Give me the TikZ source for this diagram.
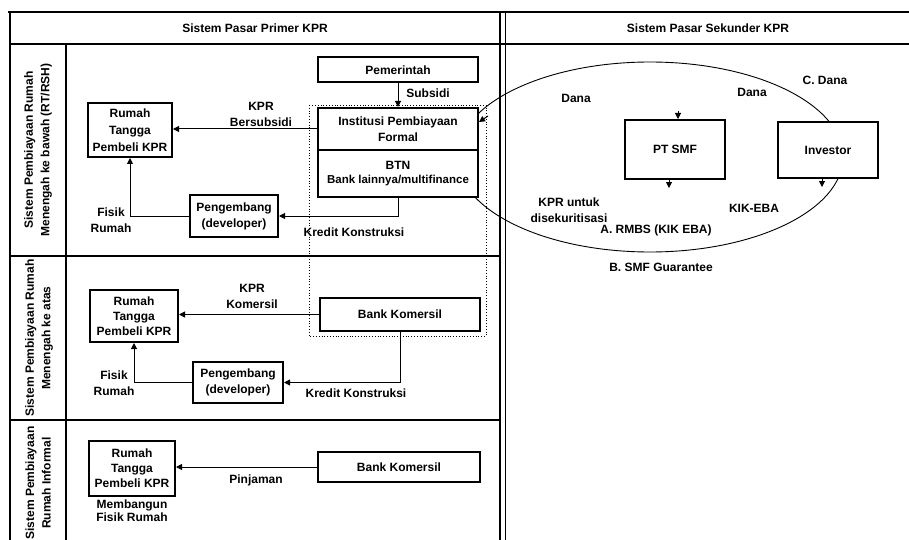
\documentclass[tikz,border=0pt]{standalone}
\usepackage{fontspec}
\setmainfont{Liberation Sans}
\usetikzlibrary{arrows.meta}
\begin{document}
\begin{tikzpicture}[x=1pt,y=-1pt,
  every node/.style={font=\fontsize{12}{16}\selectfont\bfseries, inner sep=0pt},
  box/.style={draw, line width=2pt, fill=white, align=center},
  txt/.style={align=center},
  rowlabel/.style={align=center, rotate=90, font=\fontsize{12}{16.5}\selectfont\bfseries},
  frame/.style={line width=1.4pt},
  conn/.style={line width=1pt, -{Triangle[length=6pt,width=6pt]}},
  group/.style={line width=0.8pt, dotted},
  loop/.style={line width=0.9pt}
]
\useasboundingbox (0,0) rectangle (909,540);

% table frame
\draw[frame, line width=2pt] (8,12) -- (909,12);
\draw[frame] (10,12) -- (10,540);
\draw[frame] (10,44) -- (909,44);
\draw[frame, line width=2pt] (500,12) -- (500,540);
\draw[line width=0.7pt] (505,12) -- (505,540);
\draw[frame] (66,44) -- (66,540);
\draw[frame] (10,256) -- (500,256);
\draw[frame] (10,420) -- (500,420);

% headers
\node (hprim) at (255,28) {Sistem Pasar Primer KPR};
\node (hsek) at (708,28) {Sistem Pasar Sekunder KPR};

% row labels
\node[rowlabel] (row1) at (38,150) {Sistem Pembiayaan Rumah\\Menengah ke bawah (RT/RSH)};
\node[rowlabel] (row2) at (39,338) {Sistem Pembiayaan Rumah\\Menengah ke atas};
\node[rowlabel] (row3) at (38,483) {Sistem Pembiayaan\\Rumah Informal};

% secondary market loop
\draw[loop] (650,157) ellipse [x radius=193pt, y radius=95pt];

% bank group outline
\draw[group] (309,105) rectangle (486,336);

% row 1: subsidised housing
\node[box, minimum width=160pt, minimum height=25pt] (pem) at (398,70) {Pemerintah};
\node[box, minimum width=160pt, minimum height=42pt] (inst) at (398,129) {Institusi Pembiayaan\\Formal};
\node[box, minimum width=160pt, minimum height=47pt] (btn) at (398,173.5) {BTN\\[-2pt]{\fontsize{11.5}{12}\selectfont Bank lainnya/multifinance}};
\node[box, minimum width=84pt, minimum height=54pt, font=\fontsize{12}{17}\selectfont\bfseries] (rt1) at (130,130) {Rumah\\Tangga\\Pembeli KPR};
\node[box, minimum width=88pt, minimum height=42pt] (peng1) at (234,216) {Pengembang\\(developer)};

\draw[conn] (pem.south) -- (inst.north);
\draw[conn] (inst.west) -- (inst.west -| rt1.east);
\draw[conn] (btn.south) |- (peng1.east);
\draw[conn] (peng1.west) -| (rt1.south);

\node (subsidi) at (428,93) {Subsidi};
\node[txt] (kpr1) at (261,114) {KPR\\Bersubsidi};
\node (kk1) at (354,232) {Kredit Konstruksi};
\node[txt] (fr1) at (111,220) {Fisik\\Rumah};

% row 2: commercial housing
\node[box, minimum width=88pt, minimum height=52pt, font=\fontsize{12}{15}\selectfont\bfseries] (rt2) at (134,316) {Rumah\\Tangga\\Pembeli KPR};
\node[box, minimum width=160pt, minimum height=33pt] (bk2) at (400,314.5) {Bank Komersil};
\node[box, minimum width=90pt, minimum height=41pt] (peng2) at (238,382.5) {Pengembang\\(developer)};

\draw[conn] (bk2.west) -- (bk2.west -| rt2.east);
\draw[conn] (bk2.south) |- (peng2.east);
\draw[conn] (peng2.west) -| (rt2.south);

\node[txt] (kpr2) at (252,296) {KPR\\Komersil};
\node (kk2) at (356,393) {Kredit Konstruksi};
\node[txt] (fr2) at (114,383) {Fisik\\Rumah};

% row 3: informal housing
\node[box, minimum width=86pt, minimum height=55pt, font=\fontsize{12}{15}\selectfont\bfseries] (rt3) at (132,468.5) {Rumah\\Tangga\\Pembeli KPR};
\node[box, minimum width=162pt, minimum height=30pt] (bk3) at (399,467) {Bank Komersil};
\draw[conn] (bk3.west) -- (bk3.west -| rt3.east);
\node (pinj) at (256,480) {Pinjaman};
\node[txt, font=\fontsize{12}{13}\selectfont\bfseries] (mem) at (132,511) {Membangun\\Fisik Rumah};

% secondary market
\node[box, minimum width=100pt, minimum height=59pt] (smf) at (675,149.5) {PT SMF};
\node[box, minimum width=100pt, minimum height=56pt] (inv) at (828,150) {Investor};

\coordinate (instin) at (488,116);
\coordinate (smfin) at (678,111);
\coordinate (smfout) at (669,188);
\coordinate (invout) at (822,187);
\draw[conn] (instin) -- (inst.east |- 0,122);
\draw[conn] (smfin) -- (smf.north -| smfin);
\draw[conn] (smf.south -| smfout) -- (smfout);
\draw[conn] (inv.south -| invout) -- (invout);

\node (dana1) at (576,98) {Dana};
\node (dana2) at (752,92) {Dana};
\node (cdana) at (825,80) {C. Dana};
\node[txt] (kprsek) at (569,210) {KPR untuk\\disekuritisasi};
\node (kikeba) at (754,208) {KIK-EBA};
\node (rmbs) at (656,230) {A. RMBS (KIK EBA)};
\node (guar) at (661,267) {B. SMF Guarantee};
\end{tikzpicture}
\end{document}
